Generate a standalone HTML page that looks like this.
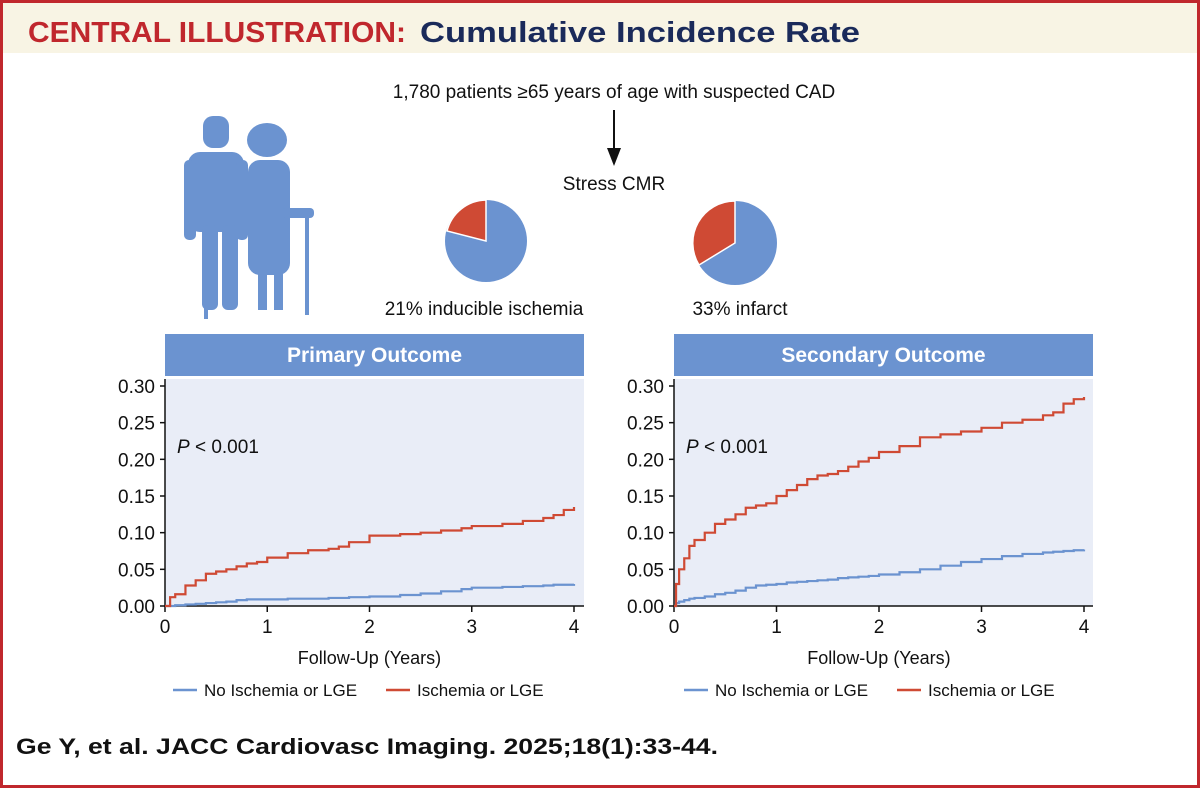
<!DOCTYPE html>
<html><head><meta charset="utf-8"><style>
body{margin:0;width:1200px;height:788px;overflow:hidden;background:#fff;font-family:"Liberation Sans",sans-serif}
#frame{position:absolute;left:0;top:0;width:1194px;height:782px;border:3px solid #c0272d;background:#fff}
#title{position:absolute;left:3px;top:3px;width:1194px;height:50px;background:#f8f4e4}
</style></head><body>
<div id="frame"></div>
<div id="title"></div>
<svg width="1200" height="788" style="position:absolute;left:0;top:0" font-family="Liberation Sans, sans-serif">
<text x="28" y="42" font-size="29" font-weight="bold" fill="#c0272d" textLength="378" lengthAdjust="spacingAndGlyphs">CENTRAL ILLUSTRATION:</text>
<text x="420" y="42" font-size="29" font-weight="bold" fill="#1a2a5a" textLength="440" lengthAdjust="spacingAndGlyphs">Cumulative Incidence Rate</text>
<text x="614" y="98" font-size="19" text-anchor="middle" fill="#111">1,780 patients ≥65 years of age with suspected CAD</text>
<line x1="614" y1="110" x2="614" y2="155" stroke="#111" stroke-width="2"/>
<polygon points="607,148 621,148 614,166" fill="#111"/>
<text x="614" y="190" font-size="19" text-anchor="middle" fill="#111">Stress CMR</text>
<g fill="#6b93d0">
<rect x="203" y="116" width="26" height="32" rx="10"/><rect x="188" y="152" width="56" height="80" rx="12"/>
<rect x="202" y="225" width="16" height="85" rx="6"/><rect x="222" y="225" width="16" height="85" rx="6"/>
<rect x="184" y="160" width="12" height="80" rx="5"/><rect x="236" y="160" width="12" height="80" rx="5"/>
<rect x="204" y="234" width="4" height="85"/>
<ellipse cx="267" cy="140" rx="20" ry="17"/><rect x="248" y="160" width="42" height="115" rx="12"/>
<rect x="258" y="270" width="9" height="40"/><rect x="274" y="270" width="9" height="40"/>
<rect x="282" y="208" width="32" height="10" rx="4"/><rect x="305" y="210" width="4" height="105"/>
</g>
<g transform="translate(486,241)">
<circle r="41" fill="#6b93d0"/><path d="M0,0 L0,-41 A41,41 0 0 0 -39,-10 Z" fill="#cf4a34" stroke="#fff" stroke-width="1.5"/></g>
<g transform="translate(735,243)">
<circle r="42" fill="#6b93d0"/><path d="M0,0 L0,-42 A42,42 0 0 0 -36,22 Z" fill="#cf4a34" stroke="#fff" stroke-width="1.5"/></g>
<text x="484" y="315" font-size="19" text-anchor="middle" fill="#111">21% inducible ischemia</text>
<text x="740" y="315" font-size="19" text-anchor="middle" fill="#111">33% infarct</text>
<text x="16" y="754" font-size="22" font-weight="bold" fill="#111" textLength="702" lengthAdjust="spacingAndGlyphs">Ge Y, et al. JACC Cardiovasc Imaging. 2025;18(1):33-44.</text>
<g id="charts"></g>
</svg>
<script>
const xTicks=[0,1,2,3,4];
const yTicks=[0,0.05,0.10,0.15,0.20,0.25,0.30];
const yTickLabels=["0.00","0.05","0.10","0.15","0.20","0.25","0.30"];
const pTime=[0,0.05,0.1,0.2,0.3,0.4,0.5,0.6,0.7,0.8,0.9,1.0,1.2,1.4,1.6,1.7,1.8,2.0,2.3,2.5,2.7,2.9,3.0,3.3,3.5,3.7,3.8,3.9,4.0];
const pIsch=[0,0.012,0.016,0.028,0.035,0.044,0.047,0.050,0.054,0.058,0.060,0.066,0.072,0.076,0.078,0.081,0.087,0.096,0.098,0.100,0.103,0.106,0.109,0.112,0.116,0.120,0.124,0.131,0.135];
const pNone=[0,0,0.001,0.002,0.003,0.004,0.005,0.006,0.008,0.009,0.009,0.009,0.010,0.010,0.011,0.011,0.012,0.013,0.015,0.017,0.020,0.023,0.025,0.026,0.027,0.028,0.029,0.029,0.030];
const sTime=[0,0.02,0.05,0.1,0.15,0.2,0.3,0.4,0.5,0.6,0.7,0.8,0.9,1.0,1.1,1.2,1.3,1.4,1.5,1.6,1.7,1.8,1.9,2.0,2.2,2.4,2.6,2.8,3.0,3.2,3.4,3.6,3.7,3.8,3.9,4.0];
const sIsch=[0,0.030,0.050,0.065,0.082,0.090,0.100,0.112,0.118,0.125,0.134,0.137,0.140,0.150,0.158,0.165,0.173,0.178,0.180,0.184,0.190,0.197,0.202,0.210,0.218,0.230,0.234,0.238,0.243,0.250,0.254,0.260,0.264,0.276,0.282,0.285];
const sNone=[0,0.004,0.006,0.008,0.010,0.011,0.013,0.016,0.018,0.021,0.025,0.028,0.029,0.030,0.032,0.033,0.034,0.035,0.036,0.038,0.039,0.040,0.041,0.043,0.046,0.050,0.055,0.060,0.064,0.068,0.071,0.073,0.074,0.075,0.076,0.077];
const NS="http://www.w3.org/2000/svg";
const root=document.getElementById('charts');
function mk(tag,attrs,parent,text){const e=document.createElementNS(NS,tag);for(const k in attrs)e.setAttribute(k,attrs[k]);if(text!==undefined)e.textContent=text;parent.appendChild(e);return e;}
function chart(x0,x1,bgRight,title,t,ser1,ser2,legX){
 const y0=606,yTop=386;
 const sx=v=>x0+(x1-x0)*v/4, sy=v=>y0-(y0-yTop)*v/0.30;
 const g=mk('g',{},root);
 
 
 const hb=mk('rect',{x:x0,y:334,width:bgRight-x0,height:42,fill:'#6b93d0'},g);
 
 const ht=mk('text',{x:(x0+bgRight)/2,y:362,'font-size':21,'font-weight':'bold',fill:'#fff','text-anchor':'middle'},g,title);
 
 const bg=mk('rect',{x:x0,y:379,width:bgRight-x0,height:y0-379,fill:'#e9edf7'},g);
 
 mk('line',{x1:x0,y1:379,x2:x0,y2:y0+1,stroke:'#111','stroke-width':1.5},g);
 mk('line',{x1:x0,y1:y0,x2:bgRight,y2:y0,stroke:'#111','stroke-width':1.5},g);
 yTicks.forEach((v,i)=>{mk('line',{x1:x0-5,y1:sy(v),x2:x0,y2:sy(v),stroke:'#111','stroke-width':1.5},g);
  const tl=mk('text',{x:x0-10,y:sy(v)+7,'font-size':19,'text-anchor':'end',fill:'#111'},g,yTickLabels[i]);
  });
 xTicks.forEach(v=>{mk('line',{x1:sx(v),y1:y0,x2:sx(v),y2:y0+6,stroke:'#111','stroke-width':1.5},g);
  const tl=mk('text',{x:sx(v),y:y0+27,'font-size':19,'text-anchor':'middle',fill:'#111'},g,String(v));
  });
 const at=mk('text',{x:(x0+x1)/2,y:664,'font-size':18,'text-anchor':'middle',fill:'#111'},g,'Follow-Up (Years)');
 
 const pv=mk('text',{x:x0+12,y:453,'font-size':19,fill:'#111'},g);
 
 mk('tspan',{'font-style':'italic'},pv,'P');mk('tspan',{},pv,' < 0.001');
 [[ser1,'#6b93d0','no-ischemia-line'],[ser2,'#cf4a34','ischemia-line']].forEach(([s,c,n])=>{
  let d='M'+sx(t[0])+','+sy(s[0]);
  for(let i=1;i<t.length;i++){d+='H'+sx(t[i])+'V'+sy(s[i]);}
  const p=mk('path',{d:d,fill:'none',stroke:c,'stroke-width':2.2},g);
  });
 const lg=mk('g',{},g);
 
 mk('line',{x1:legX,y1:690,x2:legX+24,y2:690,stroke:'#6b93d0','stroke-width':2.5},lg);
 mk('text',{x:legX+31,y:696,'font-size':17,fill:'#111'},lg,'No Ischemia or LGE');
 mk('line',{x1:legX+213,y1:690,x2:legX+237,y2:690,stroke:'#cf4a34','stroke-width':2.5},lg);
 mk('text',{x:legX+244,y:696,'font-size':17,fill:'#111'},lg,'Ischemia or LGE');
}
chart(165,574,584,'Primary Outcome',pTime,pNone,pIsch,173);
chart(674,1084,1093,'Secondary Outcome',sTime,sNone,sIsch,684);
</script>
</body></html>
